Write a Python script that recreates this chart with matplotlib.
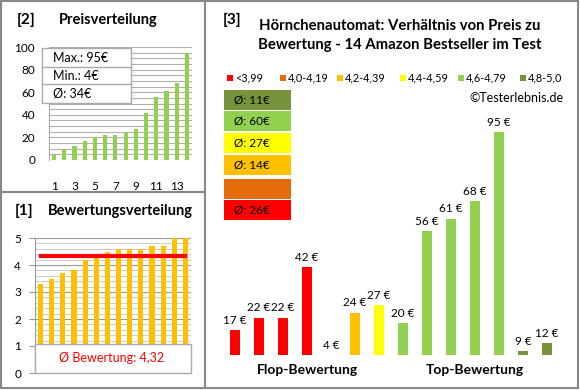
import matplotlib
matplotlib.use('Agg')
import matplotlib.pyplot as plt
from matplotlib.patches import Rectangle
from matplotlib.lines import Line2D

plt.rcParams['font.family'] = ['Lato', 'DejaVu Sans']

# data
price_sorted = [4, 9, 12, 17, 20, 22, 22, 24, 27, 42, 56, 61, 68, 95]
price_ticks = [1, 3, 5, 7, 9, 11, 13]
rating_sorted = [3.3, 3.5, 3.7, 3.8, 4.2, 4.3, 4.5, 4.6, 4.6, 4.6, 4.7, 4.7, 5.0, 5.0]
rating_mean = 4.32

prices = [17, 22, 22, 42, 4, 24, 27, 20, 56, 61, 68, 95, 9, 12]
classes = [0, 0, 0, 0, 2, 2, 3, 4, 4, 4, 4, 4, 5, 5]
class_labels = ['<3,99', '4,0-4,19', '4,2-4,39', '4,4-4,59', '4,6-4,79', '4,8-5,0']
class_colors = ['#FF0000', '#E46C0A', '#FFC000', '#FFFF00', '#92D050', '#77933C']
class_avg = ['Ø: 26€', '', 'Ø: 14€', 'Ø: 27€', 'Ø: 60€', 'Ø: 11€']
group_labels = ['Flop-Bewertung', 'Top-Bewertung']

W, H = 580, 390
fig = plt.figure(figsize=(W / 100, H / 100), dpi=100)


def fx(x):
    return x / W


def fy(y):
    return 1 - y / H


def add_ax(x0, y0, x1, y1):
    return fig.add_axes([x0 / W, 1 - y1 / H, (x1 - x0) / W, (y1 - y0) / H])


border = '#888888'
# panel borders
for xs, ys in [([1, 578], [1, 1]), ([1, 578], [388, 388]), ([1, 1], [1, 388]),
               ([578, 578], [1, 388]), ([205, 205], [1, 388]), ([1, 205], [192, 192])]:
    fig.add_artist(Line2D([fx(v) for v in xs], [fy(v) for v in ys], color=border, lw=1.5))

# ---- [2] Preisverteilung
fig.text(fx(17), fy(20), '[2]', fontsize=11, fontweight='bold', va='center')
fig.text(fx(59), fy(20), 'Preisverteilung', fontsize=10.5, fontweight='bold', va='center')
ax2 = add_ax(49, 47, 192, 160)
x = list(range(1, len(price_sorted) + 1))
ax2.bar(x, price_sorted, width=0.4, color='#92D050', zorder=3)
ax2.set_xlim(0.5, 14.5)
ax2.set_ylim(0, 100)
ax2.set_yticks(range(0, 101, 20))
ax2.set_yticks(range(0, 101, 5), minor=True)
ax2.set_xticks(price_ticks)
ax2.grid(axis='y', which='both', color='#B0B0B0', lw=0.8, zorder=0)
for s in ['top', 'right', 'bottom']:
    ax2.spines[s].set_visible(False)
ax2.spines['left'].set_color('#AAAAAA')
ax2.tick_params(axis='both', which='both', length=0, labelsize=8.5)
ax2.tick_params(axis='y', pad=10)
ax2.tick_params(axis='x', pad=15)

box_rows = ['Max.: 95€', 'Min.: 4€', 'Ø: 34€']
fig.add_artist(Rectangle((fx(42), fy(103)), (131 - 42) / W, (103 - 48) / H,
                         transform=fig.transFigure, fc='white', ec='#AAAAAA', lw=1, zorder=5))
for yy in [67, 84]:
    fig.add_artist(Line2D([fx(42), fx(131)], [fy(yy), fy(yy)], color='#AAAAAA', lw=1, zorder=6))
for i, t in enumerate(box_rows):
    fig.text(fx(53), fy(58 + i * 18), t, fontsize=9, va='center', zorder=7)

# ---- [1] Bewertungsverteilung
fig.text(fx(15), fy(211), '[1]', fontsize=11, fontweight='bold', va='center')
fig.text(fx(48), fy(211), 'Bewertungsverteilung', fontsize=10.5, fontweight='bold', va='center')
ax1 = add_ax(35, 238, 191, 373)
ax1.bar(x, rating_sorted, width=0.45, color='#FFC000', zorder=3)
ax1.plot([1, 14], [rating_mean, rating_mean], color='#FF0000', lw=3, zorder=4)
ax1.set_xlim(0.5, 14.5)
ax1.set_ylim(0, 5)
ax1.set_yticks(range(0, 6))
ax1.set_yticks([i * 0.2 for i in range(26)], minor=True)
ax1.set_xticks([])
ax1.grid(axis='y', which='minor', color='#CCCCCC', lw=0.7, zorder=0)
ax1.grid(axis='y', which='major', color='#999999', lw=0.8, zorder=0)
for s in ['top', 'right', 'bottom']:
    ax1.spines[s].set_visible(False)
ax1.spines['left'].set_color('#999999')
ax1.tick_params(axis='y', which='major', length=4, color='#999999', labelsize=8.5, pad=6)
ax1.tick_params(axis='y', which='minor', length=0)
fig.add_artist(Rectangle((fx(35), fy(373)), (191 - 35) / W, (373 - 344) / H,
                         transform=fig.transFigure, fc='white', ec='#AAAAAA', lw=1, zorder=5))
fig.text(fx(112), fy(358), 'Ø Bewertung: 4,32', fontsize=9, color='#FF0000',
         ha='center', va='center', zorder=6)

# ---- [3] main chart
fig.text(fx(223), fy(20), '[3]', fontsize=11, fontweight='bold', va='center')
fig.text(fx(400), fy(26), 'Hörnchenautomat: Verhältnis von Preis zu', fontsize=10.7,
         fontweight='bold', ha='center', va='center')
fig.text(fx(400), fy(45), 'Bewertung - 14 Amazon Bestseller im Test', fontsize=10.7,
         fontweight='bold', ha='center', va='center')

leg_x = [227, 280, 337, 400, 458, 520]
for lx, lab, col in zip(leg_x, class_labels, class_colors):
    fig.add_artist(Rectangle((fx(lx), fy(81)), 6 / W, 6 / H, transform=fig.transFigure,
                             fc=col, ec='none'))
    fig.text(fx(lx + 8), fy(78), lab, fontsize=7.8, va='center')

fig.text(fx(563), fy(98), '©Testerlebnis.de', fontsize=9, ha='right', va='center')

box_tops = [200, 179, 155, 133, 111, 90]
for top, col, avg in zip(box_tops, class_colors, class_avg):
    fig.add_artist(Rectangle((fx(224), fy(top + 20)), 67 / W, 20 / H,
                             transform=fig.transFigure, fc=col, ec='none'))
    if avg:
        fig.text(fx(234), fy(top + 10), avg, fontsize=8.5, va='center')

ax3 = add_ax(223, 119.5, 559, 355)
ybase = 7.3
pos = list(range(len(prices)))
ax3.bar(pos, prices, width=0.38, color=[class_colors[c] for c in classes])
ax3.set_xlim(-0.5, len(prices) - 0.5)
ax3.set_ylim(ybase, 100)
ax3.axis('off')
for p, v in zip(pos, prices):
    ax3.annotate(f'{v} €', (p, max(v, ybase)), xytext=(0, 3), textcoords='offset points',
                 ha='center', va='bottom', fontsize=8.5, annotation_clip=False)
for i, g in enumerate(group_labels):
    ax3.annotate(g, (3 + 7 * i, ybase), xytext=(0, -11), textcoords='offset points',
                 ha='center', va='center', fontsize=10, fontweight='bold',
                 annotation_clip=False)

fig.savefig('out.png', dpi=100)
